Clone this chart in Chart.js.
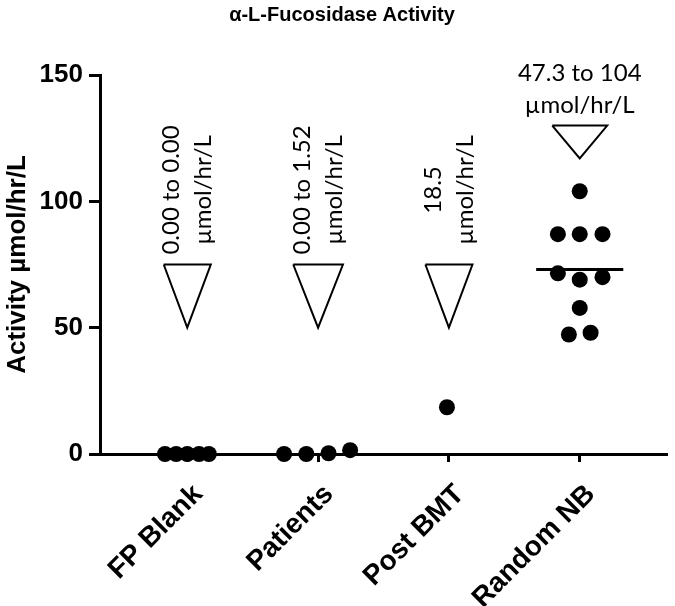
<!DOCTYPE html>
<html><head><meta charset="utf-8">
<script src="https://cdn.jsdelivr.net/npm/chart.js@4/dist/chart.umd.min.js"></script>
<style>html,body{margin:0;padding:0;background:#fff;}#wrap{width:675px;height:606px;}</style>
</head><body><div id="wrap"><canvas id="c" width="675" height="606"></canvas></div>
<script>
const categories = ['FP Blank', 'Patients', 'Post BMT', 'Random NB'];
const yTicks = [0, 50, 100, 150];
const fpBlank = [0, 0, 0, 0, 0];
const fpBlankJitter = [-0.17, -0.085, 0, 0.09, 0.165];
const patients = [0, 0, 0.3, 1.52];
const patientsJitter = [-0.26, -0.09, 0.08, 0.245];
const postBMT = [18.5];
const postBMTJitter = [-0.015];
const randomNB = [104, 87, 87, 87, 71.5, 69, 70, 57.8, 47.3, 48];
const randomNBJitter = [0, -0.167, 0, 0.174, -0.167, 0, 0.174, 0, -0.083, 0.083];
const medians = [null, null, null, 73];
const rangeText = ['0.00 to 0.00', '0.00 to 1.52', '18.5', '47.3 to 104'];
const unitText = 'µmol/hr/L';
const triangleTop = [75, 75, 75, 130];
const triangleApex = [50, 50, 50, 117];
const triangleHalf = [0.18, 0.19, 0.18, 0.21];
const labelCenter = [104.5, 104.5, 104.5, 144.5];
const titleText = 'α-L-Fucosidase Activity';
const yTitle = 'Activity µmol/hr/L';

const groups = [fpBlank, patients, postBMT, randomNB];
const jitters = [fpBlankJitter, patientsJitter, postBMTJitter, randomNBJitter];

const datasets = [];
categories.forEach((c, i) => {
  datasets.push({
    data: [
      {x: i - triangleHalf[i], y: triangleTop[i]},
      {x: i + triangleHalf[i], y: triangleTop[i]},
      {x: i, y: triangleApex[i]},
      {x: i - triangleHalf[i], y: triangleTop[i]}
    ],
    showLine: true, borderColor: '#000', borderWidth: 2, pointRadius: 0,
    fill: false, tension: 0, borderJoinStyle: 'miter', clip: false
  });
});
medians.forEach((m, i) => {
  if (m === null) return;
  datasets.push({
    data: [{x: i - 0.333, y: m}, {x: i + 0.333, y: m}],
    showLine: true, borderColor: '#000', borderWidth: 3, pointRadius: 0, fill: false
  });
});
groups.forEach((g, i) => {
  datasets.push({
    data: g.map((v, k) => ({x: i + jitters[i][k], y: v})),
    showLine: false, pointRadius: 8, pointBackgroundColor: '#000',
    pointBorderWidth: 0, borderColor: '#000', clip: false
  });
});

const annotPlugin = {
  id: 'annot',
  afterDraw(chart) {
    const ctx = chart.ctx;
    const xs = chart.scales.x, ys = chart.scales.y;
    ctx.save();
    ctx.fillStyle = '#000';
    ctx.font = 'bold 20px "Liberation Sans", Arial, sans-serif';
    ctx.textAlign = 'center';
    ctx.textBaseline = 'middle';
    ctx.fillText(titleText, 342, 15);

    ctx.font = '24px Lato, sans-serif';
    const lh = 32;
    categories.forEach((c, i) => {
      const cx = xs.getPixelForValue(i);
      const cy = ys.getPixelForValue(labelCenter[i]);
      ctx.save();
      ctx.translate(cx, cy);
      if (i < 3) ctx.rotate(-Math.PI / 2);
      ctx.fillText(rangeText[i], 0, -lh / 2);
      ctx.fillText(unitText, 0, lh / 2);
      ctx.restore();
    });
    ctx.restore();
  }
};

const labelFont = {family: '"Liberation Sans", Arial, sans-serif', weight: 'bold', size: 26};
const xLabelFont = {family: '"Liberation Sans", Arial, sans-serif', weight: 'bold', size: 28};

new Chart(document.getElementById('c'), {
  type: 'scatter',
  data: {datasets},
  options: {
    responsive: false,
    animation: false,
    layout: {padding: {top: 75, right: 3, left: 0, bottom: 0}},
    plugins: {legend: {display: false}, tooltip: {enabled: false}, title: {display: false}},
    scales: {
      x: {
        type: 'linear', min: -0.667, max: 3.667,
        afterBuildTicks: s => { s.ticks = categories.map((c, i) => ({value: i})); },
        afterFit: s => { s.height = 152; },
        ticks: {
          callback: v => categories[v], minRotation: 45, maxRotation: 45, autoSkip: false,
          color: '#000', font: xLabelFont, padding: 16, labelOffset: 11
        },
        grid: {drawOnChartArea: false, drawTicks: true, tickLength: 8, tickWidth: 3, tickColor: '#000'},
        border: {display: true, width: 3, color: '#000'}
      },
      y: {
        min: 0, max: 150,
        afterBuildTicks: s => { s.ticks = yTicks.map(v => ({value: v})); },
        afterFit: s => { s.width = 100; },
        ticks: {color: '#000', font: labelFont, padding: 6},
        grid: {drawOnChartArea: false, drawTicks: true, tickLength: 11, tickWidth: 3, tickColor: '#000'},
        border: {display: true, width: 3, color: '#000'},
        title: {
          display: true, text: yTitle, color: '#000',
          font: {family: '"Liberation Sans", Arial, sans-serif', weight: 'bold', size: 26},
          padding: {top: 2, bottom: 0}
        }
      }
    }
  },
  plugins: [annotPlugin]
});
</script>
</body></html>
